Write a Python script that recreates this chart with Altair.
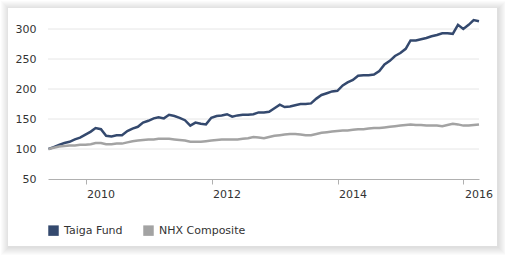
import altair as alt
import pandas as pd

# Month-end observations, May 2009 .. Mar 2016
start_month = "2009-05-31"
end_month = "2016-03-31"

taiga = [
    100, 103, 107, 110, 112, 116, 119, 124,
    129, 135, 133, 122, 121, 123, 123, 130, 134, 137, 144, 147,
    151, 153, 151, 157, 155, 152, 148, 139, 144, 142, 141, 152,
    155, 156, 158, 154, 156, 157, 157, 158, 161, 161, 162, 168,
    174, 170, 171, 173, 175, 175, 176, 184, 190, 193, 196, 197,
    206, 211, 215, 222, 223, 223, 224, 230, 241, 247, 255, 260,
    267, 281, 281, 283, 285, 288, 290, 293, 293, 292, 307, 300,
    307, 315, 313,
]
nhx = [
    100, 102, 104, 105, 106, 106, 107, 107,
    108, 110, 110, 108, 108, 109, 109, 111, 113, 114, 115, 116,
    116, 117, 117, 117, 116, 115, 114, 112, 112, 112, 113, 114,
    115, 116, 116, 116, 116, 117, 118, 120, 119, 118, 120, 122,
    123, 124, 125, 125, 124, 123, 123, 125, 127, 128, 129, 130,
    131, 131, 132, 133, 133, 134, 135, 135, 136, 137, 138, 139,
    140, 141, 140, 140, 139, 139, 139, 138, 140, 142, 141, 139,
    139, 140, 141,
]
series_names = ["Taiga Fund", "NHX Composite"]
series_colors = ["#34496e", "#a3a3a3"]
y_ticks = [50, 100, 150, 200, 250, 300]
grid_values = [100, 150, 200, 250, 300]
x_tick_years = [2010, 2012, 2014, 2016]

dates = pd.date_range(start_month, end_month, freq="ME")
df = pd.concat([
    pd.DataFrame({"date": dates, "value": taiga, "series": series_names[0]}),
    pd.DataFrame({"date": dates, "value": nhx, "series": series_names[1]}),
])

FONT = "DejaVu Sans"
yscale = alt.Scale(domain=[50, 320], nice=False, zero=False)
xscale = alt.Scale(domain=[alt.DateTime(year=2009, month=5, date=28),
                           alt.DateTime(year=2016, month=3, date=31)], nice=False)
yaxis = alt.Axis(values=y_ticks, grid=False, domain=False, ticks=False,
                 labelPadding=12, zindex=1, title=None)

# decorative card with soft shadow (plot-relative pixels)
one = alt.Data(values=[{}])
shadow_layers = []
for i in range(1, 9):
    shadow_layers.append(
        alt.Chart(one).mark_rect(fill="#000000", opacity=0.014).encode(
            x=alt.value(-40 - i + 1), x2=alt.value(449 + i + 1),
            y=alt.value(-9 - i + 1), y2=alt.value(229 + i + 1),
        )
    )
card = alt.Chart(one).mark_rect(fill="#ffffff").encode(
    x=alt.value(-40), x2=alt.value(449), y=alt.value(-9), y2=alt.value(229)
)

grid = alt.Chart(pd.DataFrame({"g": grid_values})).mark_rule(
    color="#e6e6e6", strokeWidth=1
).encode(y=alt.Y("g:Q", scale=yscale, axis=yaxis, title=None))

lines = alt.Chart(df).mark_line(strokeWidth=2.5, interpolate="linear").encode(
    x=alt.X("date:T", scale=xscale, title=None,
            axis=alt.Axis(values=[alt.DateTime(year=y, month=1, date=1) for y in x_tick_years],
                          format="%Y", grid=False, tickSize=5, tickColor="#b0b0b0",
                          domainColor="#b0b0b0", labelAlign="left", labelOffset=1,
                          labelBaseline="top", labelPadding=4, labelFlush=False,
                          labelOverlap=False, labelBound=False, zindex=1)),
    y=alt.Y("value:Q", scale=yscale, title=None, axis=yaxis),
    stroke=alt.Stroke("series:N", sort=series_names,
                      scale=alt.Scale(domain=series_names, range=series_colors),
                      legend=None),
    detail="series:N",
)

# legend carrier: filled squares, no rows drawn
legend_layer = alt.Chart(pd.DataFrame({"series": series_names})).transform_filter(
    alt.datum.series == "__none__"
).mark_square(filled=True).encode(
    fill=alt.Fill("series:N", sort=series_names,
                  scale=alt.Scale(domain=series_names, range=series_colors),
                  legend=alt.Legend(
                      title=None, orient="none", legendX=0, legendY=208,
                      direction="horizontal", symbolType="square", symbolSize=110,
                      symbolStrokeWidth=0, symbolOpacity=1, labelOffset=5,
                      columnPadding=20, padding=0,
                      labelFont=FONT, labelFontSize=11, labelColor="#333333",
                  )),
)

chart = alt.layer(*shadow_layers, card, grid, lines, legend_layer).properties(
    width=431, height=162,
    autosize=alt.AutoSizeParams(type="none"),
    padding={"left": 48, "top": 17, "right": 26, "bottom": 76},
    background="#ffffff",
).resolve_scale(fill="independent", stroke="independent").configure_view(
    stroke=None
).configure_axis(
    labelFont=FONT, labelFontSize=11, labelColor="#333333"
)

chart.save("out.html", embed_options={"renderer": "svg", "actions": False})
